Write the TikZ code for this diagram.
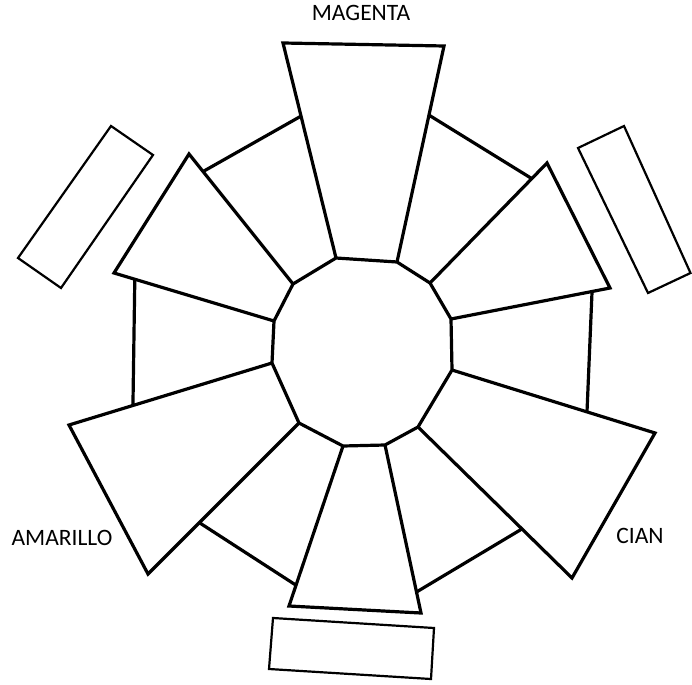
\documentclass[tikz,border=0pt]{standalone}
\usepackage{fontspec}
\setmainfont{Carlito}
\usetikzlibrary{calc}
\tikzset{
  seg/.style={draw=black, line width=3.2pt, line join=miter},
  tag/.style={draw=black, line width=2.2pt, line join=miter},
  lbl/.style={font=\fontsize{23.5}{28}\selectfont, inner sep=0pt, anchor=base}
}
\begin{document}
\begin{tikzpicture}[x=1pt,y=-1pt]
\useasboundingbox (0,0) rectangle (692,684);
% central dodecagon
\coordinate (D1) at (336,258);
\coordinate (D2) at (397,262);
\coordinate (D3) at (430,283);
\coordinate (D4) at (451,319);
\coordinate (D5) at (452,370);
\coordinate (D6) at (418,427);
\coordinate (D7) at (385,445);
\coordinate (D8) at (343,446);
\coordinate (D9) at (299,423);
\coordinate (D10) at (272,363);
\coordinate (D11) at (274,321);
\coordinate (D12) at (293,284);
% outer corners
\coordinate (M1) at (283,43);
\coordinate (M2) at (444,46);
\coordinate (UT) at (547,163);
\coordinate (UR2) at (610,288);
\coordinate (C1) at (655,433);
\coordinate (C2) at (572,578);
\coordinate (B1) at (421,613);
\coordinate (B2) at (289,606);
\coordinate (A1) at (148,574);
\coordinate (A2) at (69,425);
\coordinate (UL1) at (114,273);
\coordinate (UL2) at (189,154);
% points on edges for the small segments
\coordinate (ML) at ($(D1)!0.66!(M1)$);
\coordinate (MR) at ($(D2)!0.68!(M2)$);
\coordinate (URa) at ($(D3)!0.87!(UT)$);
\coordinate (R1) at ($(D4)!0.887!(UR2)$);
\coordinate (R2) at ($(D5)!0.665!(C1)$);
\coordinate (LR1) at ($(D6)!0.675!(C2)$);
\coordinate (LR2) at ($(D7)!0.875!(B1)$);
\coordinate (LL1) at ($(D8)!0.87!(B2)$);
\coordinate (LL2) at ($(D9)!0.66!(A1)$);
\coordinate (L1) at ($(D10)!0.685!(A2)$);
\coordinate (L2) at ($(D11)!0.87!(UL1)$);
\coordinate (ULa) at ($(D12)!0.865!(UL2)$);
% dodecagon
\draw[seg] (D1) -- (D2) -- (D3) -- (D4) -- (D5) -- (D6) -- (D7) -- (D8) -- (D9) -- (D10) -- (D11) -- (D12) -- cycle;
% large and medium segments
\draw[seg] (D1) -- (M1) -- (M2) -- (D2);
\draw[seg] (D3) -- (UT) -- (UR2) -- (D4);
\draw[seg] (D5) -- (C1) -- (C2) -- (D6);
\draw[seg] (D7) -- (B1) -- (B2) -- (D8);
\draw[seg] (D9) -- (A1) -- (A2) -- (D10);
\draw[seg] (D11) -- (UL1) -- (UL2) -- (D12);
% small segments (outer edges)
\draw[seg] (MR) -- (URa);
\draw[seg] (R1) -- (R2);
\draw[seg] (LR1) -- (LR2);
\draw[seg] (LL1) -- (LL2);
\draw[seg] (L1) -- (L2);
\draw[seg] (ULa) -- (ML);
% name tags
\draw[tag] (111,126) -- (153,155) -- (61,288) -- (18,258) -- cycle;
\draw[tag] (578,148) -- (624,126) -- (690.5,273) -- (648,293) -- cycle;
\draw[tag] (273,618) -- (434,628) -- (431,679) -- (269,669) -- cycle;
% labels
\node[lbl] (magenta) at (361,21) {MAGENTA};
\node[lbl] (amarillo) at (62,545) {AMARILLO};
\node[lbl] (cian) at (640,543) {CIAN};
\end{tikzpicture}
\end{document}
